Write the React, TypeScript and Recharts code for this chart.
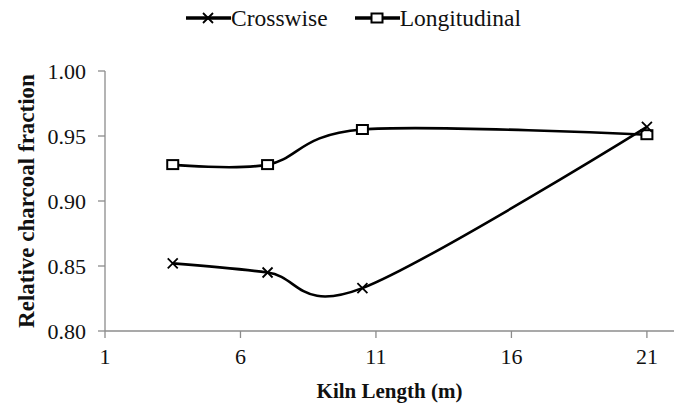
import React from "react";
import { LineChart, Line, XAxis, YAxis, Legend, Label } from "recharts";

const lengths = [3.5, 7, 10.5, 21];
const crosswise = [0.852, 0.845, 0.833, 0.957];
const longitudinal = [0.928, 0.928, 0.955, 0.951];
const xTicks = [1, 6, 11, 16, 21];
const yTicks = [0.8, 0.85, 0.9, 0.95, 1.0];

const data = lengths.map((x, i) => ({ x, crosswise: crosswise[i], longitudinal: longitudinal[i] }));

const FONT = "'Liberation Serif', 'Times New Roman', serif";
const AXIS = "#8c8c8c";

// Cardinal spline (Catmull-Rom like, similar to Excel smoothing)
const cardinal = (context: any) => {
  const k = 1 / 6;
  let x0 = NaN, y0 = NaN, x1 = NaN, y1 = NaN, x2 = NaN, y2 = NaN, pt = 0, line: number = NaN;
  const seg = (x: number, y: number) =>
    context.bezierCurveTo(x1 + k * (x2 - x0), y1 + k * (y2 - y0), x2 + k * (x1 - x), y2 + k * (y1 - y), x2, y2);
  return {
    areaStart() { line = 0; },
    areaEnd() { line = NaN; },
    lineStart() { x0 = x1 = x2 = y0 = y1 = y2 = NaN; pt = 0; },
    lineEnd() {
      if (pt === 2) context.lineTo(x2, y2);
      else if (pt === 3) seg(x1, y1);
      if (line || (line !== 0 && pt === 1)) context.closePath();
      line = 1 - line;
    },
    point(x: number, y: number) {
      x = +x; y = +y;
      switch (pt) {
        case 0: pt = 1; line ? context.lineTo(x, y) : context.moveTo(x, y); break;
        case 1: pt = 2; x1 = x; y1 = y; break;
        case 2: pt = 3; seg(x, y); break;
        default: seg(x, y); break;
      }
      x0 = x1; x1 = x2; x2 = x;
      y0 = y1; y1 = y2; y2 = y;
    },
  };
};

const Cross = ({ cx, cy }: { cx: number; cy: number }) => (
  <path d={`M${cx - 5},${cy - 5}L${cx + 5},${cy + 5}M${cx - 5},${cy + 5}L${cx + 5},${cy - 5}`} stroke="#000" strokeWidth={1.8} fill="none" />
);
const Square = ({ cx, cy }: { cx: number; cy: number }) => (
  <rect x={cx - 5.5} y={cy - 4.5} width={11} height={9} stroke="#000" strokeWidth={2} fill="#fff" />
);

const renderCross = (p: any) => <Cross key={`c${p.index}`} cx={p.cx} cy={p.cy} />;
const renderSquare = (p: any) => <Square key={`s${p.index}`} cx={p.cx} cy={p.cy} />;

const renderLegend = () => (
  <div style={{ display: "flex", alignItems: "center", height: 30, paddingLeft: 186, fontFamily: FONT, fontSize: 23.5, color: "#111" }}>
    <svg width={45} height={14} style={{ display: "block" }}>
      <line x1={0} y1={7} x2={45} y2={7} stroke="#000" strokeWidth={3.5} />
      <Cross cx={22} cy={7} />
    </svg>
    <span>Crosswise</span>
    <svg width={45} height={14} style={{ display: "block", marginLeft: 27 }}>
      <line x1={0} y1={7} x2={45} y2={7} stroke="#000" strokeWidth={3.5} />
      <Square cx={22} cy={7} />
    </svg>
    <span>Longitudinal</span>
  </div>
);

export default function App() {
  return (
    <div style={{ position: "absolute", left: 0, top: 0, background: "#fff" }}>
      <LineChart width={681} height={406} data={data} margin={{ top: 41, right: 7, bottom: 0, left: 0 }}>
        <Legend verticalAlign="top" content={renderLegend} wrapperStyle={{ left: 0, top: 3, width: 681, height: 30 }} />
        <XAxis
          dataKey="x"
          type="number"
          domain={[1, 22]}
          ticks={xTicks}
          allowDataOverflow
          height={75}
          stroke={AXIS}
          strokeWidth={1.3}
          tickSize={7}
          tickMargin={10}
          tick={{ fill: "#111", fontFamily: FONT, fontSize: 22 }}
        >
          <Label value="Kiln Length (m)" position="insideBottom" offset={8} style={{ fontFamily: FONT, fontSize: 21, fontWeight: "bold", fill: "#111" }} />
        </XAxis>
        <YAxis
          type="number"
          domain={[0.8, 1.0]}
          ticks={yTicks}
          width={105}
          stroke={AXIS}
          strokeWidth={1.3}
          tickSize={7}
          tickMargin={12}
          tickFormatter={(v: number) => v.toFixed(2)}
          tick={{ fill: "#111", fontFamily: FONT, fontSize: 22 }}
        >
          <Label value="Relative charcoal fraction" angle={-90} position="insideLeft" offset={26} style={{ textAnchor: "middle", fontFamily: FONT, fontSize: 23, fontWeight: "bold", fill: "#111" }} />
        </YAxis>
        <Line dataKey="longitudinal" type={cardinal as any} stroke="#000" strokeWidth={2.6} dot={renderSquare} activeDot={false} isAnimationActive={false} />
        <Line dataKey="crosswise" type={cardinal as any} stroke="#000" strokeWidth={2.6} dot={renderCross} activeDot={false} isAnimationActive={false} />
      </LineChart>
    </div>
  );
}
